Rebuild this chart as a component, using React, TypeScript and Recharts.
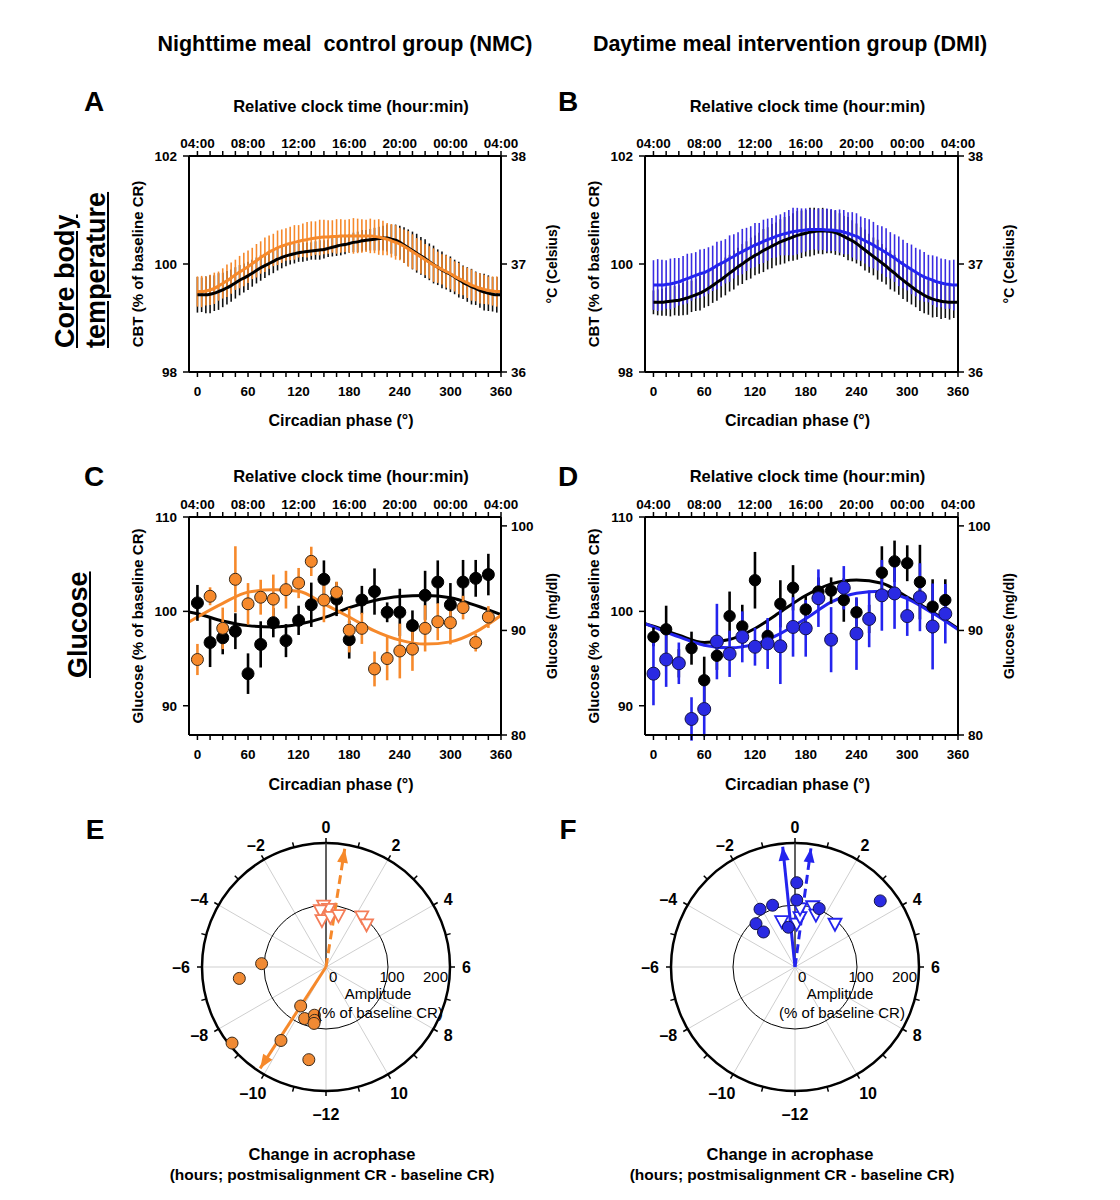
import React from "react";
import {
  ComposedChart,
  Line,
  Scatter,
  ScatterChart,
  XAxis,
  YAxis,
  ErrorBar,
  Label,
  RadarChart,
  PolarGrid,
  PolarAngleAxis,
  PolarRadiusAxis,
  ReferenceLine,
} from "recharts";

const FONT = "'Liberation Sans', Arial, Helvetica, sans-serif";
const ORANGE = "#f6892b";
const SALMON = "#f47d58";
const BLUE = "#2424ee";
const BLUE_BAR = "#3a2ce2";

// ---- axes / ticks ----
const phaseTicks = [0, 15, 30, 45, 60, 75, 90, 105, 120, 135, 150, 165, 180, 195, 210, 225, 240, 255, 270, 285, 300, 315, 330, 345, 360];
const clockLabels = ["04:00", "08:00", "12:00", "16:00", "20:00", "00:00", "04:00"];
const hourTicks = [0, 1, 2, 3, 4, 5, 6, 7, 8, 9, 10, 11, -12, -11, -10, -9, -8, -7, -6, -5, -4, -3, -2, -1];

// ---- core body temperature (every 5 deg) ----
const cbtPhase = [0, 5, 10, 15, 20, 25, 30, 35, 40, 45, 50, 55, 60, 65, 70, 75, 80, 85, 90, 95, 100, 105, 110, 115, 120, 125, 130, 135, 140, 145, 150, 155, 160, 165, 170, 175, 180, 185, 190, 195, 200, 205, 210, 215, 220, 225, 230, 235, 240, 245, 250, 255, 260, 265, 270, 275, 280, 285, 290, 295, 300, 305, 310, 315, 320, 325, 330, 335, 340, 345, 350, 355, 360];

const nmcBaseCbt = [
  99.43, 99.43, 99.43, 99.44, 99.46, 99.49, 99.52, 99.56, 99.6, 99.65,
  99.7, 99.74, 99.78, 99.83, 99.88, 99.93, 99.97, 100.01, 100.05, 100.09,
  100.12, 100.15, 100.17, 100.19, 100.21, 100.22, 100.23, 100.24, 100.25, 100.26,
  100.27, 100.29, 100.31, 100.33, 100.35, 100.36, 100.38, 100.4, 100.41, 100.43,
  100.44, 100.45, 100.46, 100.47, 100.48, 100.48, 100.46, 100.44, 100.4, 100.35,
  100.3, 100.25, 100.2, 100.15, 100.1, 100.04, 99.99, 99.94, 99.89, 99.85,
  99.81, 99.76, 99.71, 99.66, 99.62, 99.58, 99.55, 99.51, 99.48, 99.46,
  99.44, 99.43, 99.43,
];
const nmcBaseCbtErr = [
  0.33, 0.32, 0.34, 0.35, 0.33, 0.34, 0.32, 0.31, 0.3,
  0.29, 0.28, 0.27, 0.26, 0.25, 0.24, 0.24, 0.23, 0.22, 0.22, 0.21, 0.2,
  0.19, 0.18, 0.18, 0.17, 0.18, 0.17, 0.16, 0.17, 0.18, 0.17, 0.16, 0.17, 0.18, 0.19, 0.18, 0.17, 0.18, 0.19, 0.2, 0.19, 0.2, 0.21,
  0.22, 0.23, 0.25, 0.27, 0.29, 0.31, 0.33, 0.34, 0.35, 0.36, 0.35, 0.36, 0.34, 0.35, 0.33, 0.34, 0.32, 0.33,
  0.32, 0.33, 0.31, 0.32, 0.33, 0.31, 0.32, 0.34, 0.33, 0.32, 0.33, 0.32,
];
const nmcPostCbt = [
  99.49, 99.49, 99.5, 99.52, 99.55, 99.59, 99.64, 99.69, 99.74, 99.8,
  99.85, 99.9, 99.95, 100.01, 100.06, 100.12, 100.17, 100.22, 100.26, 100.3,
  100.33, 100.36, 100.38, 100.4, 100.42, 100.44, 100.45, 100.47, 100.48, 100.49,
  100.5, 100.5, 100.51, 100.51, 100.52, 100.52, 100.52, 100.52, 100.52, 100.52,
  100.52, 100.52, 100.51, 100.5, 100.48, 100.46, 100.43, 100.4, 100.37, 100.33,
  100.28, 100.23, 100.18, 100.13, 100.08, 100.03, 99.98, 99.94, 99.9, 99.86,
  99.82, 99.77, 99.73, 99.69, 99.65, 99.61, 99.58, 99.55, 99.53, 99.51,
  99.5, 99.49, 99.49,
];
const nmcPostCbtErr = [
  0.28, 0.29, 0.27, 0.28, 0.29, 0.27, 0.28, 0.3, 0.29, 0.28,
  0.3, 0.31, 0.3, 0.29, 0.31, 0.3, 0.32, 0.31, 0.3, 0.32,
  0.31, 0.3, 0.31, 0.32, 0.3, 0.31, 0.33, 0.32, 0.31, 0.33,
  0.32, 0.31, 0.3, 0.32, 0.31, 0.3, 0.31, 0.33, 0.32, 0.31,
  0.3, 0.32, 0.31, 0.33, 0.32, 0.3, 0.31, 0.32, 0.3, 0.31,
  0.33, 0.32, 0.3, 0.31, 0.29, 0.3, 0.31, 0.29, 0.28, 0.3,
  0.29, 0.28, 0.29, 0.27, 0.28, 0.29, 0.27, 0.28, 0.27, 0.26,
  0.27, 0.28, 0.27,
];
const dmiBaseCbt = [
  99.29, 99.29, 99.29, 99.3, 99.31, 99.32, 99.33, 99.35, 99.37, 99.4,
  99.43, 99.46, 99.5, 99.55, 99.6, 99.66, 99.71, 99.77, 99.83, 99.89,
  99.95, 100.0, 100.06, 100.11, 100.16, 100.2, 100.25, 100.29, 100.33, 100.37,
  100.41, 100.44, 100.47, 100.5, 100.53, 100.55, 100.57, 100.59, 100.6, 100.61,
  100.61, 100.61, 100.6, 100.58, 100.55, 100.51, 100.47, 100.43, 100.38, 100.32,
  100.26, 100.2, 100.14, 100.08, 100.02, 99.96, 99.89, 99.83, 99.76, 99.7,
  99.64, 99.58, 99.52, 99.47, 99.42, 99.38, 99.35, 99.33, 99.31, 99.3,
  99.29, 99.29, 99.29,
];
const dmiBaseCbtErr = [
  0.22, 0.24, 0.25, 0.26, 0.28, 0.27, 0.29, 0.3, 0.31, 0.29, 0.3, 0.32,
  0.31, 0.33, 0.32, 0.34, 0.33, 0.35, 0.34, 0.36, 0.35, 0.37, 0.36, 0.38, 0.37,
  0.38, 0.4, 0.39, 0.41, 0.4, 0.42, 0.43, 0.42, 0.44, 0.45, 0.44, 0.43, 0.45, 0.44, 0.42, 0.43, 0.41, 0.4, 0.41,
  0.39, 0.38, 0.4, 0.38, 0.37, 0.36, 0.38, 0.36, 0.35, 0.37, 0.35, 0.34, 0.36, 0.34, 0.33, 0.35, 0.34,
  0.33, 0.32, 0.34, 0.33, 0.32, 0.34, 0.31, 0.33, 0.3, 0.32, 0.29, 0.28,
];
const dmiPostCbt = [
  99.61, 99.61, 99.61, 99.62, 99.63, 99.65, 99.67, 99.7, 99.73, 99.76,
  99.79, 99.82, 99.84, 99.88, 99.92, 99.97, 100.01, 100.05, 100.1, 100.14,
  100.19, 100.23, 100.27, 100.31, 100.35, 100.38, 100.42, 100.45, 100.48, 100.51,
  100.54, 100.56, 100.58, 100.6, 100.61, 100.62, 100.63, 100.64, 100.64, 100.64,
  100.64, 100.63, 100.63, 100.62, 100.61, 100.59, 100.57, 100.54, 100.51, 100.47,
  100.43, 100.39, 100.35, 100.3, 100.26, 100.21, 100.16, 100.11, 100.05, 100.0,
  99.95, 99.9, 99.85, 99.8, 99.76, 99.73, 99.7, 99.67, 99.65, 99.63,
  99.62, 99.61, 99.61,
];
const dmiPostCbtErr = [
  0.46, 0.48, 0.47, 0.45, 0.47, 0.46, 0.44, 0.45, 0.46, 0.44, 0.43, 0.45,
  0.44, 0.43, 0.42, 0.44, 0.42, 0.41, 0.43, 0.41, 0.4, 0.42, 0.4, 0.39, 0.41,
  0.38, 0.4, 0.39, 0.37, 0.39, 0.38, 0.4, 0.42, 0.44, 0.43, 0.41, 0.4, 0.38, 0.37, 0.39, 0.38, 0.4, 0.39, 0.38,
  0.4, 0.41, 0.39, 0.42, 0.43, 0.41, 0.42, 0.44, 0.43, 0.42, 0.44, 0.45, 0.43, 0.44, 0.46, 0.45, 0.44,
  0.46, 0.45, 0.47, 0.46, 0.44, 0.46, 0.47, 0.45, 0.46, 0.45, 0.47, 0.46,
];

// ---- glucose (hourly, every 15 deg) ----
const gluPhase = [0, 15, 30, 45, 60, 75, 90, 105, 120, 135, 150, 165, 180, 195, 210, 225, 240, 255, 270, 285, 300, 315, 330, 345];
const nmcBaseGlu = [100.9, 96.7, 97.2, 97.9, 93.4, 96.5, 98.8, 96.9, 99.05, 100.7, 103.4, 101.3, 97.0, 101.2, 102.1, 99.9, 99.9, 98.5, 101.7, 103.1, 100.7, 103.1, 103.5, 103.9];
const nmcBaseGluErr = [1.9, 2.6, 1.75, 1.9, 2.15, 2.45, 1.55, 1.75, 1.55, 2.35, 2.0, 1.8, 2.0, 1.5, 2.45, 1.05, 2.5, 1.6, 2.6, 2.3, 2.3, 2.35, 1.95, 2.2];
const nmcPostGlu = [94.9, 101.6, 98.2, 103.4, 100.8, 101.5, 101.3, 102.3, 103.0, 105.3, 101.2, 102.0, 98.0, 98.2, 93.9, 95.0, 95.8, 96.0, 98.2, 98.9, 98.8, 100.4, 96.7, 99.4];
const nmcPostGluErr = [1.65, 0.95, 2.2, 3.5, 2.2, 1.85, 2.6, 2.0, 1.6, 1.55, 2.35, 1.15, 2.35, 1.65, 1.85, 2.3, 2.9, 2.3, 2.45, 1.95, 2.3, 1.25, 0.95, 1.15];
const dmiBaseGlu = [97.3, 98.1, 94.5, 96.1, 92.7, 95.3, 99.5, 98.4, 103.3, 97.4, 100.8, 102.5, 100.2, 102.1, 102.2, 101.2, 99.9, 99.2, 104.1, 105.3, 105.1, 103.1, 100.5, 101.2];
const dmiBaseGluErr = [1.0, 2.5, 1.5, 1.75, 2.5, 1.5, 2.6, 2.3, 3.0, 1.5, 2.5, 2.4, 1.5, 1.5, 1.4, 2.3, 1.5, 1.5, 2.8, 2.2, 1.9, 3.95, 2.9, 2.2];
const dmiPostGlu = [93.4, 94.9, 94.5, 88.6, 89.65, 96.8, 95.5, 97.3, 96.25, 96.6, 96.3, 98.35, 98.2, 101.4, 97.0, 102.5, 97.65, 99.2, 101.7, 101.9, 99.5, 101.5, 98.4, 99.75];
const dmiPostGluErr = [3.35, 2.9, 2.2, 2.3, 2.9, 4.0, 2.45, 2.7, 2.0, 2.7, 4.0, 3.15, 3.0, 3.05, 3.45, 2.3, 3.85, 3.0, 3.75, 3.75, 2.1, 3.6, 4.55, 3.15];

// cosinor fits
const fitPhase = [-10, 0, 30, 60, 90, 120, 150, 180, 210, 240, 270, 300, 330, 360];
const nmcBaseGluFit = [99.93, 99.75, 98.98, 98.49, 98.35, 98.63, 99.33, 100.39, 101.16, 101.58, 101.68, 101.44, 100.63, 99.65];
const nmcPostGluFit = [98.88, 99.4, 100.85, 102.04, 102.28, 102.14, 100.8, 99.4, 97.93, 96.95, 96.53, 96.77, 97.82, 99.58];
const dmiBaseGluFit = [98.7, 98.42, 97.47, 96.7, 97.02, 98.18, 99.93, 101.68, 102.91, 103.33, 102.98, 101.51, 99.93, 98.18];
const dmiPostGluFit = [98.7, 98.35, 97.3, 96.42, 96.14, 96.53, 97.65, 99.23, 100.98, 101.93, 102.14, 101.33, 99.82, 98.07];

// ---- acrophase change (hours) and amplitude (% of baseline CR) ----
const nmcGluShiftH = [-5.8, -6.5, -8.6, -9.9, -11.3, -9.8, -10.5, -11.1, -11.2, -11.2];
const nmcGluAmp = [104, 141, 195, 139, 152, 75, 90, 80, 88, 93];
const nmcCbtShiftH = [-0.15, 0.17, -0.38, -0.33, 0.33, 0.9, 2.35, 2.9];
const nmcCbtAmp = [99, 94, 92, 76, 81, 86, 100, 95];
const nmcGluMean = { h: -9.8, amp: 195 };
const nmcCbtMean = { h: 0.6, amp: 193 };

const dmiGluShiftH = [0.08, 0.1, -1.33, -2.08, -2.8, -2.8, -0.63, 1.5, 3.48];
const dmiGluAmp = [136, 108, 106, 109, 94, 76, 65, 102, 174];
const dmiCbtShiftH = [-1.08, 0.15, 0.38, 0.33, 1.08, 1.45, 2.85];
const dmiCbtAmp = [77, 70, 81, 95, 102, 91, 95];
const dmiGluMean = { h: -0.39, amp: 195 };
const dmiCbtMean = { h: 0.51, amp: 193 };

// ---------------------------------------------------------------
function rows(phases: number[], values: number[], errs?: number[]) {
  return phases.map((phase, i) => ({ phase, v: values[i], e: errs ? errs[i] : 0 }));
}

function polar(hours: number[], amps: number[]) {
  return hours.map((h, i) => ({
    x: amps[i] * Math.sin((h * Math.PI) / 12),
    y: amps[i] * Math.cos((h * Math.PI) / 12),
  }));
}

function arrow(m: { h: number; amp: number }) {
  const [p] = polar([m.h], [m.amp]);
  return [
    { x: 0, y: 0, tip: false, deg: 0 },
    { x: p.x, y: p.y, tip: true, deg: m.h * 15 },
  ];
}

const tickFont = { fill: "#000", fontSize: 13.5, fontWeight: 700 };
const axisLine = { stroke: "#000", strokeWidth: 2 };
const tickLine = { stroke: "#000", strokeWidth: 1.5 };

type YSpec = { domain: [number, number]; ticks: number[]; label: string };

function Panel(props: {
  left: number;
  top: number;
  plotW: number;
  plotH: number;
  topH: number;
  bottomH: number;
  yl: YSpec;
  yr: YSpec;
  children: React.ReactNode;
}) {
  const { left, top, plotW, plotH, topH, bottomH, yl, yr } = props;
  const W = 62 + plotW + 62;
  const H = topH + plotH + bottomH;
  return (
    <div style={{ position: "absolute", left, top }}>
      <ComposedChart width={W} height={H} margin={{ top: 0, right: 0, bottom: 0, left: 0 }}>
        <XAxis
          xAxisId="b"
          type="number"
          dataKey="phase"
          domain={[-10, 360]}
          allowDataOverflow
          ticks={phaseTicks}
          interval={0}
          tickFormatter={(v: number) => (v % 60 === 0 ? String(v) : "")}
          height={bottomH}
          tickSize={5}
          tickMargin={9}
          tick={tickFont}
          tickLine={tickLine}
          axisLine={axisLine}
        >
          <Label value="Circadian phase (°)" position="insideBottom" offset={8} dx={-4} fontSize={16} fontWeight={700} fill="#000" />
        </XAxis>
        <XAxis
          xAxisId="t"
          orientation="top"
          type="number"
          dataKey="phase"
          domain={[-10, 360]}
          allowDataOverflow
          ticks={phaseTicks}
          interval={0}
          tickFormatter={(v: number) => (v % 60 === 0 ? clockLabels[v / 60] : "")}
          height={topH}
          tickSize={5}
          tickMargin={3}
          tick={tickFont}
          tickLine={tickLine}
          axisLine={axisLine}
        >
          <Label value="Relative clock time (hour:min)" position="insideTop" offset={6} dx={6} fontSize={16.5} fontWeight={700} fill="#000" />
        </XAxis>
        <YAxis
          yAxisId="l"
          type="number"
          domain={yl.domain}
          allowDataOverflow
          ticks={yl.ticks}
          interval={0}
          width={62}
          tickSize={6}
          tickMargin={6}
          tick={tickFont}
          tickLine={tickLine}
          axisLine={axisLine}
        >
          <Label
            value={yl.label}
            angle={-90}
            position="insideLeft"
            offset={11}
            fontSize={15}
            fontWeight={700}
            fill="#000"
            style={{ textAnchor: "middle" }}
          />
        </YAxis>
        <YAxis
          yAxisId="r"
          orientation="right"
          type="number"
          domain={yr.domain}
          allowDataOverflow
          ticks={yr.ticks}
          interval={0}
          width={62}
          tickSize={6}
          tickMargin={4}
          tick={tickFont}
          tickLine={tickLine}
          axisLine={axisLine}
        >
          <Label
            value={yr.label}
            angle={-90}
            position="insideRight"
            offset={11}
            fontSize={14}
            fontWeight={700}
            fill="#000"
            style={{ textAnchor: "middle" }}
          />
        </YAxis>
        {props.children}
      </ComposedChart>
    </div>
  );
}

function bars(key: string, data: any[], color: string, w: number) {
  return (
    <Line
      key={key}
      xAxisId="b"
      yAxisId="l"
      data={data}
      dataKey="v"
      stroke="none"
      dot={false}
      activeDot={false}
      isAnimationActive={false}
    >
      <ErrorBar dataKey="e" width={0} stroke={color} strokeWidth={w} direction="y" />
    </Line>
  );
}

function curve(key: string, data: any[], color: string) {
  return (
    <Line
      key={key}
      xAxisId="b"
      yAxisId="l"
      data={data}
      dataKey="v"
      type="monotone"
      stroke={color}
      strokeWidth={3}
      dot={false}
      activeDot={false}
      isAnimationActive={false}
    />
  );
}

function dots(key: string, data: any[], fill: string, stroke: string, r: number, barColor: string) {
  return (
    <Scatter
      key={key}
      xAxisId="b"
      yAxisId="l"
      data={data}
      dataKey="v"
      isAnimationActive={false}
      shape={(p: any) => <circle cx={p.cx} cy={p.cy} r={r} fill={fill} stroke={stroke} strokeWidth={1} />}
    >
      <ErrorBar dataKey="e" width={0} stroke={barColor} strokeWidth={2.6} direction="y" />
    </Scatter>
  );
}

// ---- polar panels ----
function HourTick(props: any) {
  const { x, y, payload } = props;
  const h = Number(payload.value);
  if (h % 2 !== 0) return <g />;
  const a = (payload.coordinate * Math.PI) / 180;
  const c = Math.cos(a);
  const s = Math.sin(a);
  const side = Math.abs(c) > 0.6;
  const ext = side ? 7 : 11 + 7 * Math.max(0, -s);
  const anchor = side ? (c > 0 ? "start" : "end") : "middle";
  const text = h < 0 ? `\u2013${-h}` : String(h);
  return (
    <text x={x + ext * c} y={y - ext * s} textAnchor={anchor} dominantBaseline="central" fontSize={16} fontWeight={700} fill="#000">
      {text}
    </text>
  );
}

function AmpTick(props: any) {
  const { x, y, payload } = props;
  const v = Number(payload.value);
  const anchor = v === 0 ? "start" : v >= 200 ? "end" : "middle";
  const dx = v === 0 ? 3 : v >= 200 ? -2 : 4;
  return (
    <text x={x + dx} y={y + 15} textAnchor={anchor} fontSize={15} fill="#000">
      {v}
    </text>
  );
}

const hourRows = hourTicks.map((h) => ({ h }));
const spokeAngles = hourTicks.map((h, i) => ({ h, a: 90 - i * 15 })).filter((d) => d.h % 2 === 0).map((d) => d.a);

function PolarPanel(props: {
  cx: number;
  cy: number;
  glu: { x: number; y: number }[];
  cbt: { x: number; y: number }[];
  gluMean: { h: number; amp: number };
  cbtMean: { h: number; amp: number };
  dotFill: string;
  dotStroke: string;
  triColor: string;
  solidColor: string;
  dashColor: string;
  ampX: number;
}) {
  const { cx, cy } = props;
  const S = 340;
  const head = (color: string) => (p: any) =>
    p.payload.tip ? (
      <path d="M0,0 L5.5,14 L-5.5,14 Z" fill={color} transform={`translate(${p.cx},${p.cy}) rotate(${p.payload.deg})`} />
    ) : (
      <g />
    );
  return (
    <>
      <div style={{ position: "absolute", left: cx - S / 2, top: cy - S / 2 }}>
        <RadarChart
          width={S}
          height={S}
          data={hourRows}
          cx={S / 2}
          cy={S / 2}
          innerRadius={0}
          outerRadius={124}
          startAngle={90}
          endAngle={-270}
          margin={{ top: 0, right: 0, bottom: 0, left: 0 }}
        >
          <PolarGrid gridType="circle" polarRadius={[]} polarAngles={spokeAngles} stroke="#cfcfcf" strokeWidth={1} />
          <PolarGrid gridType="circle" radialLines={false} stroke="#000" strokeWidth={1} />
          <PolarAngleAxis
            dataKey="h"
            axisLineType="circle"
            axisLine={{ stroke: "#000", strokeWidth: 2.5 }}
            tickLine={{ stroke: "#000", strokeWidth: 1.5 }}
            tickSize={5}
            tick={HourTick}
          />
          <PolarRadiusAxis
            angle={0}
            type="number"
            domain={[0, 200]}
            allowDataOverflow
            tickCount={3}
            axisLine={false}
            tickLine={false}
            tick={AmpTick}
          />
        </RadarChart>
      </div>
      <div style={{ position: "absolute", left: cx - 140, top: cy - 140 }}>
        <ScatterChart width={280} height={280} margin={{ top: 16, right: 16, bottom: 16, left: 16 }}>
          <XAxis type="number" dataKey="x" domain={[-200, 200]} allowDataOverflow hide />
          <YAxis type="number" dataKey="y" domain={[-200, 200]} allowDataOverflow hide />
          <ReferenceLine segment={[{ x: 0, y: 0 }, { x: 0, y: 200 }]} stroke="#333" strokeWidth={1.5} />
          <Scatter
            data={arrow(props.gluMean)}
            isAnimationActive={false}
            line={{ stroke: props.solidColor, strokeWidth: 3 }}
            shape={head(props.solidColor)}
          />
          <Scatter
            data={arrow(props.cbtMean)}
            isAnimationActive={false}
            line={{ stroke: props.dashColor, strokeWidth: 3, strokeDasharray: "9 5" }}
            shape={head(props.dashColor)}
          />
          <Scatter
            data={props.cbt}
            isAnimationActive={false}
            shape={(p: any) => (
              <path
                d={`M${p.cx - 6.5},${p.cy - 5} L${p.cx + 6.5},${p.cy - 5} L${p.cx},${p.cy + 7} Z`}
                fill="#fff"
                stroke={props.triColor}
                strokeWidth={1.8}
              />
            )}
          />
          <Scatter
            data={props.glu}
            isAnimationActive={false}
            shape={(p: any) => <circle cx={p.cx} cy={p.cy} r={6} fill={props.dotFill} stroke={props.dotStroke} strokeWidth={1} />}
          />
        </ScatterChart>
      </div>
      <Txt x={props.ampX} y={994} size={15}>Amplitude</Txt>
      <Txt x={props.ampX + 2} y={1013} size={15}>(% of baseline CR)</Txt>
    </>
  );
}

function Txt(props: { x: number; y: number; size: number; bold?: boolean; children: React.ReactNode }) {
  return (
    <div
      style={{
        position: "absolute",
        left: props.x,
        top: props.y,
        transform: "translate(-50%, -50%)",
        fontSize: props.size,
        fontWeight: props.bold ? 700 : 400,
        whiteSpace: "nowrap",
        lineHeight: 1.2,
      }}
    >
      {props.children}
    </div>
  );
}

function RowLabel(props: { x: number; y: number; lines: string[] }) {
  return (
    <div
      style={{
        position: "absolute",
        left: props.x,
        top: props.y,
        transformOrigin: "0 0",
        transform: "rotate(-90deg)",
        fontSize: 27,
        fontWeight: 700,
        lineHeight: "31px",
        whiteSpace: "nowrap",
        textDecoration: "underline",
        textUnderlineOffset: 2,
      }}
    >
      {props.lines.map((l) => (
        <div key={l}>{l}</div>
      ))}
    </div>
  );
}

export default function App() {
  const cbtY: YSpec = { domain: [98, 102], ticks: [98, 100, 102], label: "CBT (% of baseline CR)" };
  const cbtR: YSpec = { domain: [36, 38], ticks: [36, 37, 38], label: "°C (Celsius)" };
  const gluY: YSpec = { domain: [86.9, 110], ticks: [90, 100, 110], label: "Glucose (% of baseline CR)" };
  const gluR: YSpec = { domain: [80, 100.85], ticks: [80, 90, 100], label: "Glucose (mg/dl)" };

  return (
    <div
      style={{
        position: "absolute",
        left: 0,
        top: 0,
        width: 1120,
        height: 1200,
        background: "#fff",
        fontFamily: FONT,
        color: "#000",
        overflow: "hidden",
      }}
    >
      <Txt x={345} y={45} size={21.5} bold>Nighttime meal&nbsp; control group (NMC)</Txt>
      <Txt x={790} y={45} size={21.5} bold>Daytime meal intervention group (DMI)</Txt>

      <Txt x={94} y={102} size={28} bold>A</Txt>
      <Txt x={568} y={102} size={28} bold>B</Txt>
      <Txt x={94} y={477} size={28} bold>C</Txt>
      <Txt x={568} y={477} size={28} bold>D</Txt>
      <Txt x={95} y={830} size={28} bold>E</Txt>
      <Txt x={568} y={830} size={28} bold>F</Txt>

      <RowLabel x={50} y={348} lines={["Core body", "temperature"]} />
      <RowLabel x={63} y={678} lines={["Glucose"]} />

      <Panel left={127} top={94} plotW={312} plotH={216} topH={62} bottomH={62} yl={cbtY} yr={cbtR}>
        {[
          bars("a-base-bars", rows(cbtPhase, nmcBaseCbt, nmcBaseCbtErr), "#111", 1.6),
          bars("a-post-bars", rows(cbtPhase, nmcPostCbt, nmcPostCbtErr), ORANGE, 1.6),
          curve("a-base-line", rows(cbtPhase, nmcBaseCbt), "#000"),
          curve("a-post-line", rows(cbtPhase, nmcPostCbt), ORANGE),
        ]}
      </Panel>

      <Panel left={583} top={94} plotW={313} plotH={216} topH={62} bottomH={62} yl={cbtY} yr={cbtR}>
        {[
          bars("b-base-bars", rows(cbtPhase, dmiBaseCbt, dmiBaseCbtErr), "#111", 1.6),
          bars("b-post-bars", rows(cbtPhase, dmiPostCbt, dmiPostCbtErr), BLUE_BAR, 1.6),
          curve("b-base-line", rows(cbtPhase, dmiBaseCbt), "#000"),
          curve("b-post-line", rows(cbtPhase, dmiPostCbt), BLUE),
        ]}
      </Panel>

      <Panel left={127} top={464} plotW={312} plotH={218} topH={53} bottomH={63} yl={gluY} yr={gluR}>
        {[
          curve("c-base-fit", rows(fitPhase, nmcBaseGluFit), "#000"),
          curve("c-post-fit", rows(fitPhase, nmcPostGluFit), ORANGE),
          dots("c-base", rows(gluPhase, nmcBaseGlu, nmcBaseGluErr), "#000", "#000", 6, "#000"),
          dots("c-post", rows(gluPhase, nmcPostGlu, nmcPostGluErr), ORANGE, "#3a2a1a", 6, ORANGE),
        ]}
      </Panel>

      <Panel left={583} top={464} plotW={313} plotH={218} topH={53} bottomH={63} yl={gluY} yr={gluR}>
        {[
          curve("d-base-fit", rows(fitPhase, dmiBaseGluFit), "#000"),
          curve("d-post-fit", rows(fitPhase, dmiPostGluFit), BLUE),
          dots("d-base", rows(gluPhase, dmiBaseGlu, dmiBaseGluErr), "#000", "#000", 5.7, "#000"),
          dots("d-post", rows(gluPhase, dmiPostGlu, dmiPostGluErr), "#2a2ae2", "#14144a", 6.5, BLUE),
        ]}
      </Panel>

      <PolarPanel
        cx={326}
        cy={967}
        glu={polar(nmcGluShiftH, nmcGluAmp)}
        cbt={polar(nmcCbtShiftH, nmcCbtAmp)}
        gluMean={nmcGluMean}
        cbtMean={nmcCbtMean}
        dotFill="#f08a34"
        dotStroke="#3a2a1a"
        triColor={SALMON}
        solidColor={ORANGE}
        dashColor={ORANGE}
        ampX={378}
      />
      <PolarPanel
        cx={795}
        cy={967}
        glu={polar(dmiGluShiftH, dmiGluAmp)}
        cbt={polar(dmiCbtShiftH, dmiCbtAmp)}
        gluMean={dmiGluMean}
        cbtMean={dmiCbtMean}
        dotFill="#2a2ae2"
        dotStroke="#14144a"
        triColor={BLUE}
        solidColor={BLUE}
        dashColor={BLUE}
        ampX={840}
      />

      <Txt x={332} y={1155} size={16.5} bold>Change in acrophase</Txt>
      <Txt x={332} y={1175} size={15.5} bold>(hours; postmisalignment CR - baseline CR)</Txt>
      <Txt x={790} y={1155} size={16.5} bold>Change in acrophase</Txt>
      <Txt x={792} y={1175} size={15.5} bold>(hours; postmisalignment CR - baseline CR)</Txt>
    </div>
  );
}
